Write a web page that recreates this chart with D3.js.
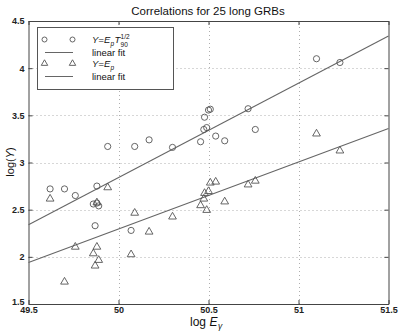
<!DOCTYPE html>
<html><head><meta charset="utf-8">
<script src="https://d3js.org/d3.v7.min.js"></script>
<style>body{margin:0;background:#fff}svg{display:block}text{font-family:"Liberation Sans",Arial,sans-serif}</style>
</head><body>
<script>
const logE = [49.62,49.70,49.76,49.86,49.87,49.88,49.88,49.89,49.94,50.07,50.09,50.17,50.30,50.456,50.474,50.478,50.49,50.50,50.51,50.54,50.59,50.72,50.76,51.10,51.23];
const logEpT = [2.72,2.72,2.65,2.56,2.33,2.75,2.57,2.54,3.17,2.28,3.17,3.24,3.16,3.22,3.35,3.48,3.37,3.556,3.565,3.28,3.23,3.57,3.35,4.10,4.06];
const logEp = [2.62,1.74,2.11,2.04,1.91,2.11,2.58,1.97,2.74,2.03,2.47,2.27,2.43,2.55,2.62,2.68,2.50,2.70,2.79,2.80,2.59,2.77,2.81,3.31,3.13];
const fitX = [49.5, 51.5];
const fitEpT = [2.34, 4.34];
const fitEp = [1.94, 3.36];
const xTicks = [49.5, 50, 50.5, 51, 51.5];
const yTicks = [1.5, 2, 2.5, 3, 3.5, 4, 4.5];

const W = 400, H = 335;
const svg = d3.select("body").append("svg").attr("width", W).attr("height", H);
const x = d3.scaleLinear().domain([49.5, 51.5]).range([28.5, 388.5]);
const y = d3.scaleLinear().domain([1.5, 4.5]).range([304, 21]);
const gray = "#555";

// grid
const g = svg.append("g");
g.selectAll(".gx").data(xTicks.slice(1, -1)).join("line")
  .attr("x1", d => Math.round(x(d)) + 0.5).attr("x2", d => Math.round(x(d)) + 0.5)
  .attr("y1", y(1.5)).attr("y2", y(4.5))
  .attr("stroke", "#999").attr("stroke-width", 0.8).attr("stroke-dasharray", "1,3");
g.selectAll(".gy").data(yTicks.slice(1, -1)).join("line")
  .attr("y1", d => Math.round(y(d)) + 0.5).attr("y2", d => Math.round(y(d)) + 0.5)
  .attr("x1", x(49.5)).attr("x2", x(51.5))
  .attr("stroke", "#999").attr("stroke-width", 0.8).attr("stroke-dasharray", "1,3");

// axes
const xa = svg.append("g").attr("transform", `translate(0,${y(1.5)})`)
  .call(d3.axisBottom(x).tickValues(xTicks).tickFormat(d3.format("")).tickSize(-4).tickSizeOuter(0).tickPadding(3));
const ya = svg.append("g").attr("transform", `translate(${x(49.5)},0)`)
  .call(d3.axisLeft(y).tickValues(yTicks).tickFormat(d3.format("")).tickSize(-4).tickSizeOuter(0).tickPadding(4));
const xr = svg.append("g").attr("transform", `translate(0,${y(4.5)})`)
  .call(d3.axisTop(x).tickValues(xTicks).tickFormat("").tickSize(-4).tickSizeOuter(0));
const yr = svg.append("g").attr("transform", `translate(${x(51.5)},0)`)
  .call(d3.axisRight(y).tickValues(yTicks).tickFormat("").tickSize(-4).tickSizeOuter(0));
[xa, ya, xr, yr].forEach(a => {
  a.selectAll("path,line").attr("stroke", "#444");
  a.selectAll("text").attr("font-size", 9).attr("fill", "#222").attr("font-weight", "bold");
});
ya.selectAll(".tick text").filter(d => d === 1.5).attr("y", -2.5);

// fit lines
const line = d3.line().x(d => x(d[0])).y(d => y(d[1]));
svg.append("path").attr("d", line(fitX.map((v, i) => [v, fitEpT[i]])))
  .attr("stroke", "#666").attr("fill", "none").attr("stroke-width", 1.1);
svg.append("path").attr("d", line(fitX.map((v, i) => [v, fitEp[i]])))
  .attr("stroke", "#666").attr("fill", "none").attr("stroke-width", 1.1);

// markers
const tri = d3.symbol().type(d3.symbolTriangle).size(26);
svg.append("g").selectAll("circle").data(logE).join("circle")
  .attr("cx", d => x(d)).attr("cy", (d, i) => y(logEpT[i])).attr("r", 3.1)
  .attr("fill", "none").attr("stroke", gray).attr("stroke-width", 0.9);
svg.append("g").selectAll("path").data(logE).join("path")
  .attr("d", tri).attr("transform", (d, i) => `translate(${x(d)},${y(logEp[i]) + 0.5})`)
  .attr("fill", "none").attr("stroke", gray).attr("stroke-width", 0.9);

// legend
const lg = svg.append("g");
lg.append("rect").attr("x", 37.5).attr("y", 27.5).attr("width", 136).attr("height", 62)
  .attr("fill", "#fff").attr("stroke", "#555").attr("stroke-width", 1);
const lx1 = 45, lx2 = 73, tx = 92;
[44.5, 72.5].forEach(cx => {
  lg.append("circle").attr("cx", cx).attr("cy", 39.5).attr("r", 2.5).attr("fill", "none").attr("stroke", gray).attr("stroke-width", 0.9);
  lg.append("path").attr("d", d3.symbol().type(d3.symbolTriangle).size(18)).attr("transform", `translate(${cx},63.5)`)
    .attr("fill", "none").attr("stroke", gray).attr("stroke-width", 0.9);
});
[52.5, 76.5].forEach(ly => lg.append("line").attr("x1", lx1).attr("x2", lx2).attr("y1", ly).attr("y2", ly).attr("stroke", "#666").attr("stroke-width", 1));

function piece(parent, px, py, str, size, italic) {
  const t = parent.append("text").attr("x", px).attr("y", py).attr("font-size", size).attr("fill", "#111")
    .attr("font-style", italic ? "italic" : "normal").text(str);
  return px + t.node().getComputedTextLength();
}
let cx1 = piece(lg, tx, 43, "Y=E", 9.5, true);
cx1 = piece(lg, cx1 + 0.3, 45.5, "p", 6.5, true);
cx1 = piece(lg, cx1 + 0.3, 43, "T", 9.5, true);
piece(lg, cx1 + 0.3, 38.5, "1/2", 6.5, false);
piece(lg, cx1 + 0.3, 46.5, "90", 6.5, false);
piece(lg, tx, 56, "linear fit", 9.5, false);
let cx3 = piece(lg, tx, 67, "Y=E", 9.5, true);
piece(lg, cx3 + 0.3, 69.5, "p", 6.5, true);
piece(lg, tx, 80, "linear fit", 9.5, false);

// title & labels
svg.append("text").attr("x", 208).attr("y", 15).attr("text-anchor", "middle").attr("font-size", 11.5).attr("fill", "#111")
  .text("Correlations for 25 long GRBs");
const yl = svg.append("text").attr("transform", "translate(14,162) rotate(-90)").attr("text-anchor", "middle").attr("font-size", 11).attr("fill", "#111");
yl.append("tspan").text("log(");
yl.append("tspan").attr("font-style", "italic").text("Y");
yl.append("tspan").text(")");
let lx = piece(svg, 190, 326, "log", 12, false);
lx = piece(svg, lx + 3.5, 326, "E", 12, true);
piece(svg, lx + 0.5, 329, "γ", 8.5, true);
</script>
</body></html>
